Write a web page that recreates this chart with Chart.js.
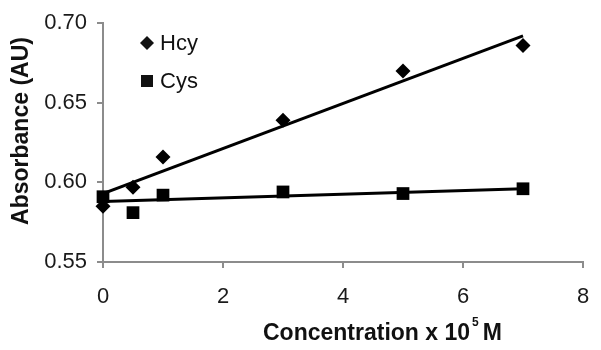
<!DOCTYPE html>
<html>
<head>
<meta charset="utf-8">
<script src="https://cdn.jsdelivr.net/npm/chart.js@4/dist/chart.umd.min.js"></script>
<style>
  html, body { margin: 0; padding: 0; background: #fff; }
  #wrap { width: 601px; height: 350px; }
</style>
</head>
<body>
<div id="wrap"><canvas id="absChart"></canvas></div>
<script>
// data
const concentration = [0, 0.5, 1, 3, 5, 7];
const hcyValues = [0.585, 0.597, 0.616, 0.639, 0.670, 0.686];
const cysValues = [0.591, 0.581, 0.592, 0.594, 0.593, 0.596];
const trendX = [0, 7];
const hcyTrend = [0.593, 0.692];
const cysTrend = [0.588, 0.596];
const xTicks = [0, 2, 4, 6, 8];
const yTicks = [0.55, 0.60, 0.65, 0.70];

const toPoints = (xs, ys) => xs.map((x, i) => ({ x: x, y: ys[i] }));

const FONT = "'Liberation Sans', Arial, sans-serif";

// axis titles + inset legend
const extras = {
  id: 'extras',
  afterDraw(chart) {
    const ctx = chart.ctx;
    ctx.save();
    ctx.fillStyle = '#111';

    // legend
    ctx.beginPath();
    ctx.moveTo(147, 36); ctx.lineTo(154, 43); ctx.lineTo(147, 50); ctx.lineTo(140, 43);
    ctx.closePath();
    ctx.fill();
    ctx.fillRect(141, 75, 12, 12);
    ctx.font = '22px ' + FONT;
    ctx.textBaseline = 'middle';
    ctx.fillText('Hcy', 160, 44);
    ctx.fillText('Cys', 160, 82);

    // x title with superscript
    ctx.textBaseline = 'alphabetic';
    ctx.font = 'bold 23px ' + FONT;
    let x = 263;
    const main = 'Concentration x 10';
    ctx.fillText(main, x, 340);
    x += ctx.measureText(main).width + 2;
    ctx.font = 'bold 12px ' + FONT;
    ctx.fillText('5', x, 326);
    x += ctx.measureText('5').width + 4;
    ctx.font = 'bold 23px ' + FONT;
    ctx.fillText('M', x, 340);

    // y title
    ctx.translate(22, 131);
    ctx.rotate(-Math.PI / 2);
    ctx.textAlign = 'center';
    ctx.textBaseline = 'middle';
    ctx.fillText('Absorbance (AU)', 0, 0);
    ctx.restore();
  }
};

new Chart(document.getElementById('absChart'), {
  type: 'scatter',
  data: {
    datasets: [
      {
        label: 'Hcy',
        data: toPoints(concentration, hcyValues),
        pointStyle: 'rectRot',
        pointRadius: 7.5,
        backgroundColor: '#000',
        borderColor: '#000',
        borderWidth: 0,
        clip: false
      },
      {
        label: 'Cys',
        data: toPoints(concentration, cysValues),
        pointStyle: 'rect',
        pointRadius: 9,
        backgroundColor: '#000',
        borderColor: '#000',
        borderWidth: 0,
        clip: false
      },
      {
        type: 'line',
        label: 'Hcy fit',
        data: toPoints(trendX, hcyTrend),
        borderColor: '#000',
        borderWidth: 3,
        pointRadius: 0
      },
      {
        type: 'line',
        label: 'Cys fit',
        data: toPoints(trendX, cysTrend),
        borderColor: '#000',
        borderWidth: 3,
        pointRadius: 0
      }
    ]
  },
  options: {
    responsive: true,
    maintainAspectRatio: false,
    animation: false,
    layout: { padding: { top: 21, right: 18, left: 0, bottom: 0 } },
    plugins: {
      legend: { display: false },
      tooltip: { enabled: false }
    },
    scales: {
      x: {
        type: 'linear',
        min: 0,
        max: 8,
        afterFit: s => { s.height = 88; s.paddingLeft = 0; s.paddingRight = 6; },
        afterBuildTicks: s => { s.ticks = xTicks.map(v => ({ value: v })); },
        ticks: {
          padding: 16,
          color: '#1a1a1a',
          font: { family: FONT, size: 22 },
          callback: v => String(v)
        },
        grid: { drawOnChartArea: false, drawTicks: true, tickLength: 6, color: '#8c8c8c', lineWidth: 2 },
        border: { color: '#8c8c8c', width: 2 }
      },
      y: {
        min: 0.55,
        max: 0.70,
        afterFit: s => { s.width = 103; },
        afterBuildTicks: s => { s.ticks = yTicks.map(v => ({ value: v })); },
        ticks: {
          padding: 10,
          color: '#1a1a1a',
          font: { family: FONT, size: 22 },
          callback: v => v.toFixed(2)
        },
        grid: { drawOnChartArea: false, drawTicks: true, tickLength: 6, color: '#8c8c8c', lineWidth: 2 },
        border: { color: '#8c8c8c', width: 2 }
      }
    }
  },
  plugins: [extras]
});
</script>
</body>
</html>
